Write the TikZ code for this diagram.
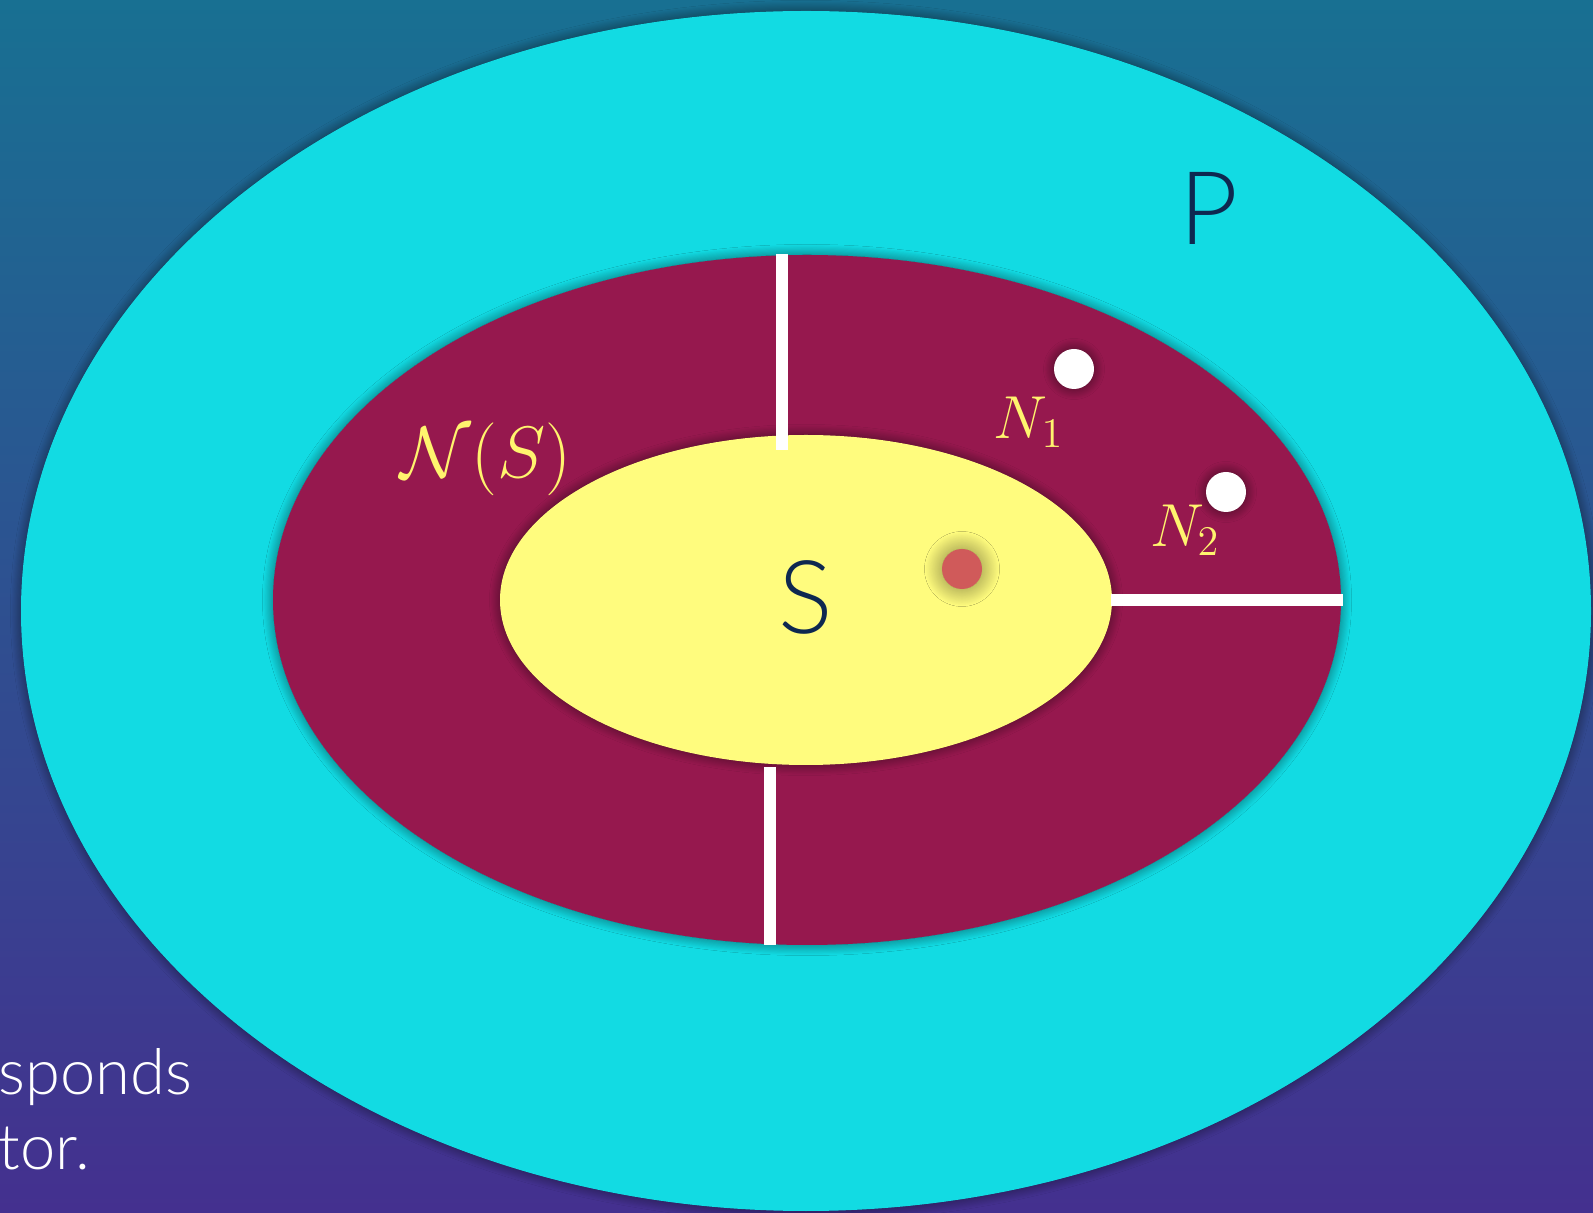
\documentclass[tikz,border=0pt]{standalone}
\usepackage{fontspec}
\newfontfamily\slidefont{Lato}[UprightFont=* Light]
\usetikzlibrary{shadows.blur}

\definecolor{bgtop}{RGB}{24,112,146}
\definecolor{bgbot}{RGB}{68,48,143}
\definecolor{popcyan}{RGB}{18,219,227}
\definecolor{nbhmag}{RGB}{150,24,78}
\definecolor{setyel}{RGB}{255,252,126}
\definecolor{lblyel}{RGB}{255,244,110}
\definecolor{inknavy}{RGB}{14,40,80}
\definecolor{seedred}{RGB}{208,90,90}

\begin{document}
\begin{tikzpicture}[
  glow/.style={blur shadow={shadow xshift=0pt, shadow yshift=0pt,
               shadow blur radius=3pt, shadow blur steps=20, shadow opacity=55}},
  region/.style={glow},
  cut/.style={draw=white, line width=3.4pt},
  dot/.style={circle, fill=white, minimum size=0.40cm, inner sep=0pt, glow},
  seed/.style={circle, fill=seedred, minimum size=0.40cm, inner sep=0pt,
               blur shadow={shadow xshift=0pt, shadow yshift=0pt,
               shadow blur radius=5pt, shadow blur steps=24, shadow opacity=50}},
  mathlbl/.style={text=lblyel, inner sep=0pt},
  setlbl/.style={text=inknavy, font=\slidefont\fontsize{29}{34}\selectfont, inner sep=0pt},
  caption/.style={text=white, font=\slidefont\fontsize{18}{21}\selectfont,
                  anchor=base west, inner sep=0pt},
]

% --- fixed bounding box (gradient background) ---
\shade[top color=bgtop, bottom color=bgbot] (0,0) rectangle (15.93,12.12);
\useasboundingbox (0,0) rectangle (15.93,12.12);

% --- regions: P, N(S), S ---
\fill[region, popcyan] (8.06,6.01) ellipse [x radius=7.85, y radius=6.00];
\fill[region, nbhmag]  (8.07,6.12) ellipse [x radius=5.34, y radius=3.45];
\fill[region, setyel]  (8.06,6.12) ellipse [x radius=3.06, y radius=1.65];

% --- separators inside N(S) ---
\draw[cut] (7.82,9.58) -- (7.82,7.62);
\draw[cut] (7.70,4.45) -- (7.70,2.67);
\draw[cut] (11.11,6.12) -- (13.43,6.12);

% --- points ---
\node[dot]  (n1)  at (10.74,8.43) {};
\node[dot]  (n2)  at (12.26,7.20) {};
\node[seed] (v)   at (9.62,6.43) {};

% --- labels ---
\node[setlbl] (plbl) at (12.09,10.04) {P};
\node[setlbl] (slbl) at (8.06,6.15) {S};
\node[mathlbl, font=\fontsize{21.5}{26}\selectfont] (nslbl) at (4.86,7.53)
  {$\mathcal{N}(S)$};
\node[mathlbl, font=\fontsize{17}{20}\selectfont] (n1lbl) at (10.29,7.90) {$N_1$};
\node[mathlbl, font=\fontsize{17}{20}\selectfont] (n2lbl) at (11.85,6.82) {$N_2$};

% --- clipped slide text ---
\node[caption] (cap1) at (-0.02,1.17) {sponds};
\node[caption] (cap2) at (-0.02,0.42) {tor.};

\end{tikzpicture}
\end{document}
